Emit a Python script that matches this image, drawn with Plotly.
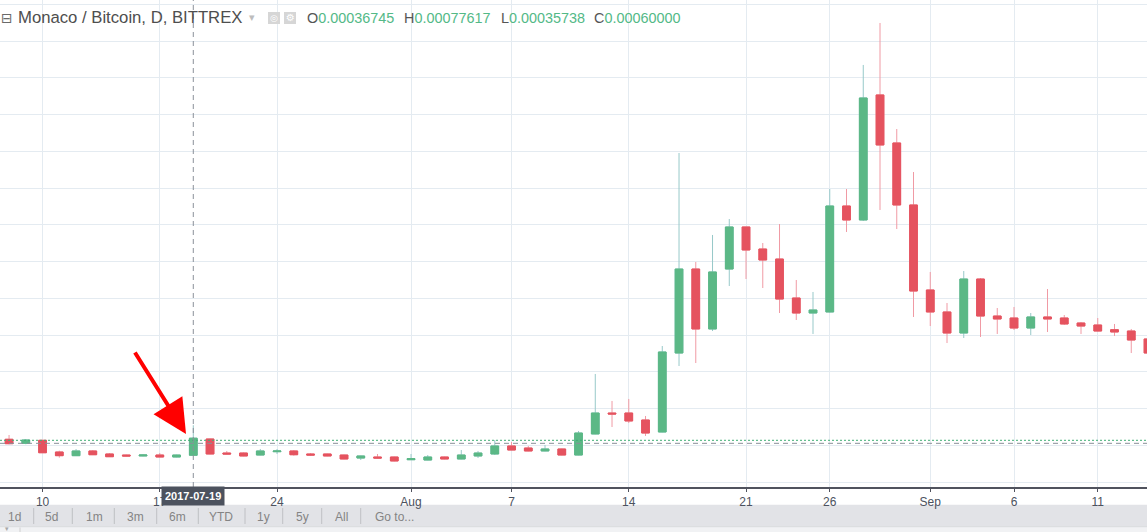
import pandas as pd
import plotly.graph_objects as go

# daily MCO/BTC candles (Jul 8 .. Sep 14, 2017)
start_date = "2017-07-08"
opens = [0.000585, 0.000530, 0.000571, 0.000412, 0.000362, 0.000426, 0.000385, 0.000371, 0.000358, 0.000371,
         0.000344, 0.00036745, 0.000589, 0.000398, 0.000398, 0.000371, 0.000416, 0.000426, 0.000385, 0.000385,
         0.000371, 0.000330, 0.000344, 0.000344, 0.000307, 0.000303, 0.000344, 0.000317, 0.000358, 0.000385,
         0.000494, 0.000466, 0.000426, 0.000453, 0.000371, 0.000657, 0.000942, 0.000942, 0.000847, 0.000684,
         0.001758, 0.002900, 0.002085, 0.002900, 0.003472, 0.003172, 0.003036, 0.002506, 0.002302, 0.002316,
         0.003757, 0.003567, 0.005267, 0.004614, 0.003771, 0.002615, 0.002316, 0.002030, 0.002764, 0.002261,
         0.002234, 0.002098, 0.002248, 0.002234, 0.002166, 0.002139, 0.002075, 0.002057, 0.001949]
highs = [0.000643, 0.000589, 0.000575, 0.000430, 0.000453, 0.000439, 0.000398, 0.000375, 0.000385, 0.000398,
         0.000375, 0.00077617, 0.000593, 0.000426, 0.000405, 0.000453, 0.000453, 0.000439, 0.000398, 0.000389,
         0.000375, 0.000362, 0.000385, 0.000348, 0.000385, 0.000371, 0.000348, 0.000439, 0.000426, 0.000575,
         0.000548, 0.000494, 0.000507, 0.000457, 0.000698, 0.001473, 0.001106, 0.001133, 0.000902, 0.001853,
         0.004478, 0.002996, 0.003363, 0.003580, 0.003472, 0.003254, 0.003512, 0.002751, 0.002588, 0.003988,
         0.003988, 0.005675, 0.006246, 0.004804, 0.004219, 0.002860, 0.002438, 0.002873, 0.002778, 0.002370,
         0.002384, 0.002302, 0.002628, 0.002275, 0.002180, 0.002234, 0.002153, 0.002085, 0.002112]
lows = [0.000517, 0.000517, 0.000398, 0.000335, 0.000358, 0.000371, 0.000344, 0.000354, 0.000354, 0.000340,
        0.000340, 0.00035738, 0.000381, 0.000381, 0.000354, 0.000367, 0.000385, 0.000362, 0.000358, 0.000354,
        0.000313, 0.000303, 0.000326, 0.000286, 0.000303, 0.000299, 0.000313, 0.000313, 0.000330, 0.000371,
        0.000435, 0.000422, 0.000422, 0.000367, 0.000367, 0.000653, 0.000752, 0.000806, 0.000630, 0.000680,
        0.001581, 0.001622, 0.002057, 0.002669, 0.002764, 0.002642, 0.002302, 0.002207, 0.002017, 0.002309,
        0.003404, 0.003553, 0.003703, 0.003444, 0.002248, 0.002125, 0.001894, 0.001962, 0.001976, 0.002017,
        0.002071, 0.002003, 0.002044, 0.002139, 0.002017, 0.002051, 0.001989, 0.001758, 0.001704]
closes = [0.000525, 0.000575, 0.000402, 0.000362, 0.000426, 0.000375, 0.000348, 0.000358, 0.000371, 0.000344,
          0.000371, 0.00060000, 0.000385, 0.000385, 0.000358, 0.000426, 0.000426, 0.000375, 0.000371, 0.000358,
          0.000317, 0.000358, 0.000330, 0.000290, 0.000321, 0.000344, 0.000317, 0.000371, 0.000398, 0.000494,
          0.000439, 0.000426, 0.000453, 0.000371, 0.000670, 0.000942, 0.000929, 0.000834, 0.000670, 0.001772,
          0.002900, 0.002085, 0.002860, 0.003472, 0.003159, 0.003023, 0.002492, 0.002302, 0.002343, 0.003757,
          0.003567, 0.005226, 0.004587, 0.003771, 0.002601, 0.002316, 0.002030, 0.002764, 0.002261, 0.002221,
          0.002098, 0.002248, 0.002221, 0.002153, 0.002125, 0.002057, 0.002044, 0.001935, 0.001758]

tick_dates = ["2017-07-10", "2017-07-17", "2017-07-24", "2017-08-01", "2017-08-07", "2017-08-14",
              "2017-08-21", "2017-08-26", "2017-09-01", "2017-09-06", "2017-09-11"]
tick_text = ["10", "17", "24", "Aug", "7", "14", "21", "26", "Sep", "6", "11"]

cursor_date = "2017-07-19"
last_price = 0.000571      # green dotted price line
cursor_price = 0.000530    # crosshair horizontal
symbol_title = "Monaco / Bitcoin, D, BITTREX"
buttons = ["1d", "5d", "1m", "3m", "6m", "YTD", "1y", "5y", "All", "Go to..."]

dates = pd.date_range(start_date, periods=len(opens), freq="D")
ci = list(dates.strftime("%Y-%m-%d")).index(cursor_date)

GREEN, RED = "#5bb886", "#e5535f"
W, H, B = 1147, 532, 45
PH = H - B


def px(x):
    return x / W


def py(y):
    return (PH - y) / PH


def label(text, x, y, size=12, color="#848484", family="Liberation Sans", xanchor="center", **kw):
    return dict(text=text, xref="paper", yref="paper", x=px(x), y=py(y), showarrow=False,
                xanchor=xanchor, yanchor="middle",
                font=dict(family=family, size=size, color=color), **kw)


fig = go.Figure()
# wicks (lighter colour)
fig.add_trace(go.Candlestick(
    x=dates, open=opens, high=highs, low=lows, close=closes,
    increasing=dict(line=dict(color="#97c9c9", width=1), fillcolor=GREEN),
    decreasing=dict(line=dict(color="#f09aa4", width=1), fillcolor=RED),
    hoverinfo="skip", showlegend=False))
# solid bodies on top
fig.add_trace(go.Candlestick(
    x=dates, open=opens, close=closes,
    high=[max(o, c) for o, c in zip(opens, closes)],
    low=[min(o, c) for o, c in zip(opens, closes)],
    increasing=dict(line=dict(color=GREEN, width=1), fillcolor=GREEN),
    decreasing=dict(line=dict(color=RED, width=1), fillcolor=RED),
    hoverinfo="skip", showlegend=False))

shapes = [
    dict(type="line", xref="paper", yref="y", x0=0, x1=1, y0=last_price, y1=last_price,
         line=dict(color="#3fae74", width=1, dash="2px,2px")),
    dict(type="line", xref="paper", yref="y", x0=0, x1=1, y0=cursor_price, y1=cursor_price,
         line=dict(color="#8a9099", width=1, dash="5px,4px")),
    dict(type="line", xref="x", yref="paper", x0=cursor_date, x1=cursor_date, y0=0, y1=1,
         line=dict(color="#8a9099", width=1, dash="5px,4px")),
    # bottom toolbar
    dict(type="rect", xref="paper", yref="paper", x0=0, x1=1, y0=py(526.7), y1=py(504.7),
         fillcolor="#e2e3e7", line_width=0, layer="below"),
    dict(type="rect", xref="paper", yref="paper", x0=-0.01, x1=1.01, y0=py(534), y1=py(526.7),
         fillcolor="#f1f2f4", line=dict(color="#d9dadd", width=1)),
    dict(type="line", xref="paper", yref="paper", x0=px(20), x1=px(20), y0=py(532), y1=py(527.5),
         line=dict(color="#d0d0d0", width=1)),
    # header icons
    dict(type="rect", xref="paper", yref="paper", x0=px(268), x1=px(280), y0=py(24), y1=py(12),
         fillcolor="#d6d6d6", line_width=0),
    dict(type="rect", xref="paper", yref="paper", x0=px(284), x1=px(296), y0=py(24), y1=py(12),
         fillcolor="#d6d6d6", line_width=0),
]

sep_x = [33.7, 72.3, 114.3, 156.7, 198.3, 245, 282.7, 321.7, 360.7]
for sx in sep_x:
    shapes.append(dict(type="line", xref="paper", yref="paper", x0=px(sx), x1=px(sx),
                       y0=py(524), y1=py(508), line=dict(color="#bfc0c4", width=1)))

annotations = [
    label("⊟", 7, 18, size=14, color="#6a6a6a", family="DejaVu Sans"),
    label(symbol_title, 16, 18, size=16.7, color="#4e4e4e", xanchor="left"),
    label("▾", 252, 18, size=11, color="#bdbdbd", family="DejaVu Sans"),
    label("◎", 274, 18, size=9, color="white", family="DejaVu Sans"),
    label("⚙", 290, 18, size=10, color="white", family="DejaVu Sans"),
    # red arrow
    dict(text="", xref="paper", yref="paper", x=px(186), y=py(434), ax=-52, ay=-83,
         showarrow=True, arrowhead=2, arrowsize=1.7, arrowwidth=4, arrowcolor="#ff0000", standoff=0),
]
# date label of the crosshair
annotations.append(dict(text=f"<b>{cursor_date}</b>", xref="x", yref="paper", x=cursor_date,
                        y=py(495.8), xanchor="center", yanchor="middle", showarrow=False,
                        bgcolor="#4c525e", borderpad=3,
                        font=dict(family="Liberation Sans", size=11, color="white")))

ohlc = [("O", opens[ci], 305), ("H", highs[ci], 402), ("L", lows[ci], 499), ("C", closes[ci], 592)]
for letter, val, xx in ohlc:
    annotations.append(label(
        f"<span style='color:#555555'>{letter}</span><span style='color:#53b987'>{val:.8f}</span>",
        xx, 18, size=14.4, xanchor="left"))

btn_x = [14.7, 51.7, 94.3, 135.3, 177.7, 221.3, 263.7, 302.7, 341, 394]
for text, bx in zip(buttons, btn_x):
    annotations.append(label(text, bx, 516.7))
annotations.append(label("▾", 7, 528.8, size=7, color="#a8a8a8", family="DejaVu Sans"))

fig.update_layout(
    width=W, height=H,
    margin=dict(l=0, r=0, t=0, b=B),
    paper_bgcolor="white", plot_bgcolor="white",
    boxgap=0.34,
    shapes=shapes, annotations=annotations,
    xaxis=dict(type="date", range=["2017-07-07 11:02", "2017-09-13 22:34"],
               rangeslider=dict(visible=False),
               tickvals=tick_dates, ticktext=tick_text,
               showgrid=True, gridcolor="#e4ebf1", gridwidth=1,
               showline=True, linecolor="#50535e", linewidth=1.5,
               ticks="outside", ticklen=3, tickcolor="#50535e",
               tickfont=dict(family="Liberation Sans", size=12, color="#4c525e")),
    yaxis=dict(range=[-0.0000639, 0.0065583], tick0=0, dtick=0.0005,
               showticklabels=False, showgrid=True, gridcolor="#e4ebf1", gridwidth=1,
               zeroline=False),
)

# the page's default 8px body margin would shift the figure
fig.write_html("out.html", config={"displayModeBar": False},
               post_script="document.body.style.margin='0';")
